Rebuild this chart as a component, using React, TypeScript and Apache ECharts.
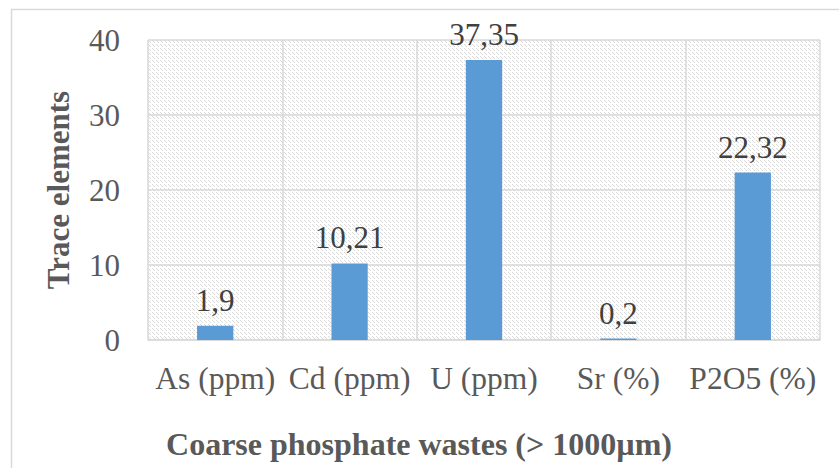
import React, { useEffect, useRef } from "react";
import * as echarts from "echarts";

const categories = ["As (ppm)", "Cd (ppm)", "U (ppm)", "Sr (%)", "P2O5 (%)"];
const values = [1.9, 10.21, 37.35, 0.2, 22.32];
const yTicks = { min: 0, max: 40, interval: 10 };
const xTitle = "Coarse phosphate wastes (> 1000µm)";
const yTitle = "Trace elements";

function makeHatch(): HTMLCanvasElement {
  const c = document.createElement("canvas");
  c.width = 8;
  c.height = 8;
  const ctx = c.getContext("2d")!;
  ctx.fillStyle = "#ffffff";
  ctx.fillRect(0, 0, 8, 8);
  ctx.fillStyle = "#d9d9d9";
  for (let i = 0; i < 8; i++) {
    if (i % 4 === 3) continue;
    ctx.fillRect(i, i, 1, 1);
    ctx.fillRect((i + 4) % 8, i, 1, 1);
  }
  return c;
}

export default function App() {
  const ref = useRef<HTMLDivElement>(null);
  useEffect(() => {
    if (!ref.current) return;
    const chart = echarts.init(ref.current, undefined, { renderer: "svg" });
    const font = "Liberation Serif";
    chart.setOption({
      animation: false,
      backgroundColor: "#ffffff",
      textStyle: { fontFamily: font },
      grid: {
        left: 148,
        right: 19,
        top: 40,
        bottom: 128,
        show: true,
        borderWidth: 0,
        backgroundColor: { image: makeHatch(), repeat: "repeat" },
      },
      graphic: [
        {
          type: "rect",
          shape: { x: 11.5, y: 9.5, width: 900, height: 500 },
          style: { fill: "none", stroke: "#d9d9d9", lineWidth: 1.5 },
          silent: true,
          z: -10,
        },
        {
          type: "text",
          x: 419,
          y: 444,
          style: {
            text: xTitle,
            fontFamily: font,
            fontSize: 32,
            fontWeight: "bold",
            fill: "#595959",
            textAlign: "center",
            textVerticalAlign: "middle",
          },
        },
      ],
      xAxis: {
        type: "category",
        data: categories,
        axisTick: { show: false },
        axisLine: { lineStyle: { color: "#d9d9d9", width: 1.5 } },
        splitLine: { show: true, lineStyle: { color: "#d9d9d9", width: 1.5 } },
        axisLabel: {
          color: "#595959",
          fontSize: 31.5,
          fontFamily: font,
          margin: 22,
          interval: 0,
        },
      },
      yAxis: {
        type: "value",
        min: yTicks.min,
        max: yTicks.max,
        interval: yTicks.interval,
        name: yTitle,
        nameLocation: "middle",
        nameGap: 74,
        nameTextStyle: {
          color: "#595959",
          fontSize: 31,
          fontWeight: "bold",
          fontFamily: font,
        },
        axisLine: { show: false },
        axisTick: { show: false },
        splitLine: { lineStyle: { color: "#d9d9d9", width: 1.5 } },
        axisLabel: { color: "#595959", fontSize: 31, fontFamily: font, margin: 28 },
      },
      series: [
        {
          type: "bar",
          data: values,
          barWidth: "27%",
          itemStyle: { color: "#5b9bd5" },
          label: {
            show: true,
            position: "top",
            distance: 10,
            color: "#404040",
            fontSize: 31,
            fontFamily: font,
            formatter: (p: any) => String(p.value).replace(".", ","),
          },
        },
      ],
    });
    return () => chart.dispose();
  }, []);
  return (
    <div
      ref={ref}
      style={{ position: "fixed", left: 0, top: 0, width: 839, height: 468 }}
    />
  );
}
